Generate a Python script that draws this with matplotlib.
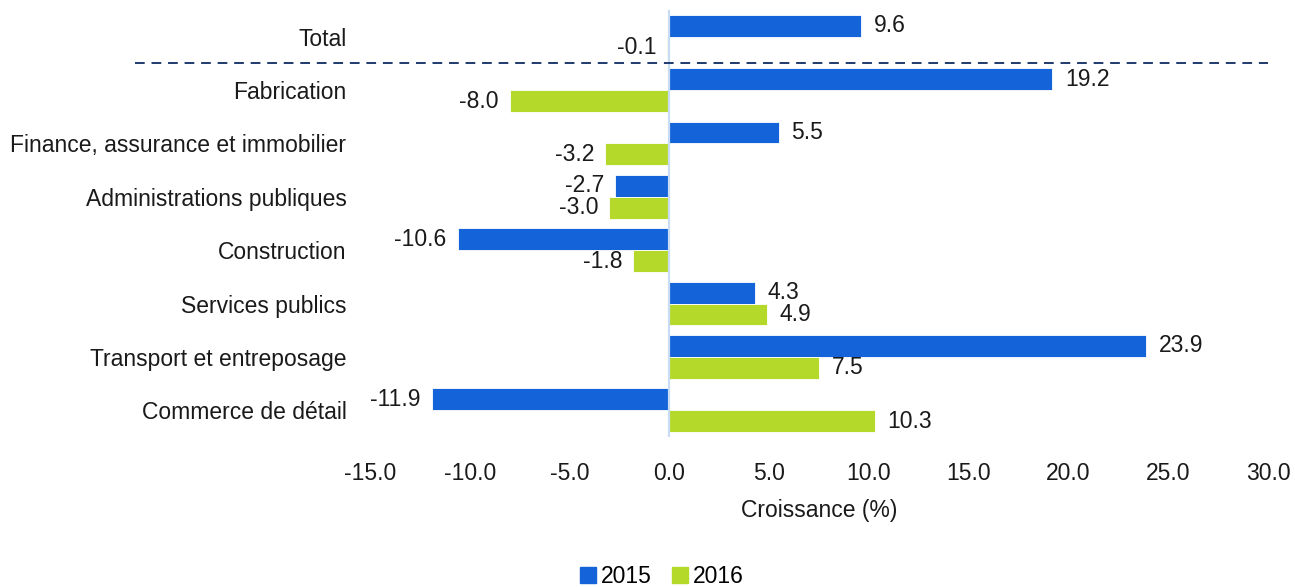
import numpy as np
import matplotlib
matplotlib.use("Agg")
import matplotlib.pyplot as plt
from matplotlib.patches import Patch

plt.rcParams["font.family"] = ["Liberation Sans", "DejaVu Sans"]
plt.rcParams["axes.unicode_minus"] = False

categories = ["Total", "Fabrication", "Finance, assurance et immobilier",
              "Administrations publiques", "Construction", "Services publics",
              "Transport et entreposage", "Commerce de détail"]
vals_2015 = [9.6, 19.2, 5.5, -2.7, -10.6, 4.3, 23.9, -11.9]
vals_2016 = [-0.1, -8.0, -3.2, -3.0, -1.8, 4.9, 7.5, 10.3]
years = ["2015", "2016"]
xticks = [-15, -10, -5, 0, 5, 10, 15, 20, 25, 30]

BLUE = "#1463d8"
GREEN = "#b5d92a"
NAVY = "#1f3a6e"
ZERO = "#c9dcf5"
TXT = "#1a1a1a"
FS = 16.5

fig = plt.figure(figsize=(12.95, 5.87), dpi=100)
ax = fig.add_axes([370 / 1295, 1 - 437 / 587, 898 / 1295, 427 / 587])

y = np.arange(len(categories))
h = 0.41
for vals, off, col in [(vals_2015, -h / 2, BLUE), (vals_2016, h / 2, GREEN)]:
    bars = ax.barh(y + off, vals, height=h, color=col, edgecolor="white",
                   linewidth=0.6, zorder=2)
    for b, v in zip(bars, vals):
        ax.annotate(f"{v:.1f}", (v, b.get_y() + b.get_height() / 2),
                    xytext=(9 if v >= 0 else -8, 0), textcoords="offset points",
                    ha="left" if v >= 0 else "right", va="center",
                    fontsize=FS, color=TXT)

ax.axvline(0, color=ZERO, lw=1.6, zorder=3)
ax.set_xlim(-15, 30)
ax.set_ylim(len(categories) - 0.5, -0.5)
ax.set_xticks(xticks)
ax.set_xticklabels([f"{t:.1f}" for t in xticks])
ax.set_yticks(y)
ax.set_yticklabels(categories)
ax.tick_params(axis="both", length=0, labelsize=FS, colors=TXT)
ax.tick_params(axis="x", pad=18)
ax.tick_params(axis="y", pad=17)
for s in ax.spines.values():
    s.set_visible(False)
ax.set_xlabel("Croissance (%)", fontsize=FS, color=TXT, labelpad=10)

# dashed separator between Total and the sectors
ax.plot([-0.262, 1.0], [0.5, 0.5], transform=ax.get_yaxis_transform(),
        color=NAVY, lw=1.4, ls=(0, (5, 3.5)), clip_on=False, zorder=4)

fig.legend(handles=[Patch(color=BLUE, label=years[0]),
                    Patch(color=GREEN, label=years[1])],
           loc="center", bbox_to_anchor=(0.511, 0.018), ncol=2, frameon=False,
           fontsize=FS, handlelength=0.7, handleheight=0.7,
           handletextpad=0.2, columnspacing=0.9)

fig.savefig("out.png", dpi=100)
